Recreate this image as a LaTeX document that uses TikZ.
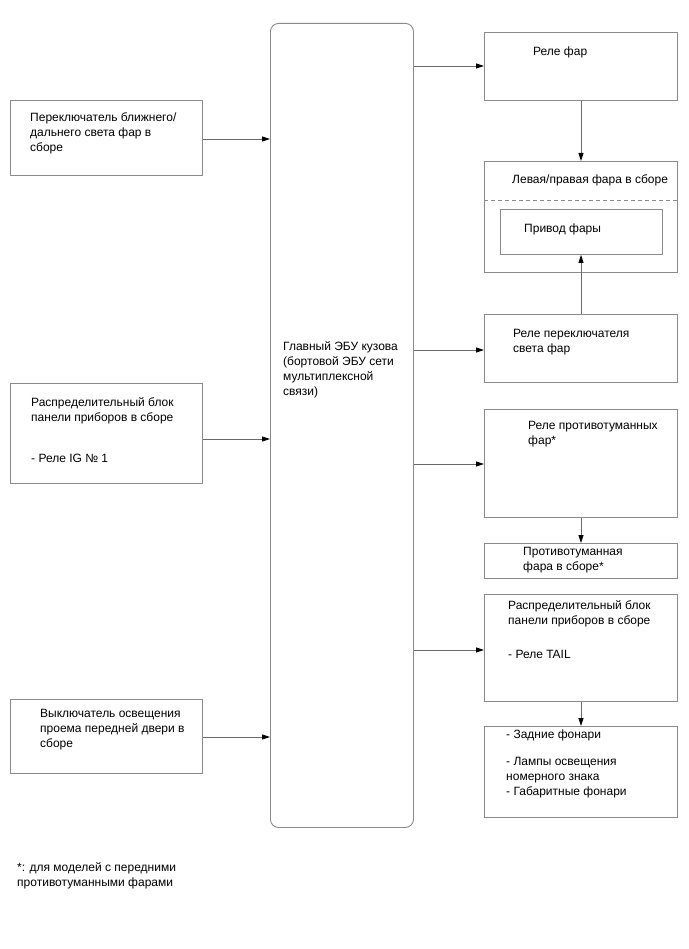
\documentclass[tikz,border=0pt]{standalone}
\usepackage{fontspec}
\setmainfont{Liberation Sans}
\usetikzlibrary{arrows.meta}
\definecolor{bordergray}{HTML}{8A8A8A}
\definecolor{linegray}{HTML}{6A6A6A}
\tikzset{
  box/.style={draw=bordergray, line width=0.9pt, rectangle, inner sep=0pt, anchor=north west},
  txt/.style={anchor=north west, inner sep=0pt, align=left, font=\fontsize{12}{15}\selectfont, text=black},
  arr/.style={draw=linegray, line width=0.8pt, -{Triangle[length=8pt,width=5pt,color=black]}},
}
\begin{document}
\begin{tikzpicture}[x=1pt,y=-1pt]
\useasboundingbox[fill=white] (0,0) rectangle (688,949);

% central ECU
\node[box, rounded corners=8pt, minimum width=143pt, minimum height=804pt] (c) at (270,23) {};
\node[txt] (ct) at (283,341) {Главный ЭБУ кузова\\(бортовой ЭБУ сети\\мультиплексной\\связи)};

% left boxes
\node[box, minimum width=192pt, minimum height=75pt] (l1) at (10,100) {};
\node[txt] (l1t) at (30,113) {Переключатель ближнего/\\дальнего света фар в\\сборе};

\node[box, minimum width=192pt, minimum height=100pt] (l2) at (10,383) {};
\node[txt] (l2t) at (31,397) {Распределительный блок\\панели приборов в сборе\\[26pt]- Реле IG № 1};

\node[box, minimum width=192pt, minimum height=74pt] (l3) at (10,699) {};
\node[txt] (l3t) at (40,709) {Выключатель освещения\\проема передней двери в\\сборе};

% footnote
\node[txt] (fn) at (17,862) {*: для моделей с передними\\противотуманными фарами};

% right boxes
\node[box, minimum width=193pt, minimum height=68pt] (r1) at (484,32) {};
\node[txt] (r1t) at (533,47) {Реле фар};

\node[box, minimum width=193pt, minimum height=111pt] (r2) at (484,161) {};
\node[txt] (r2t) at (512,175) {Левая/правая фара в сборе};
\draw[draw=bordergray, line width=0.9pt, dash pattern=on 4pt off 3pt] (r2.west |- 0,200) -- (r2.east |- 0,200);
\node[box, minimum width=162pt, minimum height=45pt] (r2i) at (500,209) {};
\node[txt] (r2it) at (524,224) {Привод фары};

\node[box, minimum width=193pt, minimum height=68pt] (r3) at (484,314) {};
\node[txt] (r3t) at (513,329) {Реле переключателя\\света фар};

\node[box, minimum width=193pt, minimum height=108pt] (r4) at (484,409) {};
\node[txt] (r4t) at (528,421) {Реле противотуманных\\фар*};

\node[box, minimum width=193pt, minimum height=35pt] (r5) at (484,543) {};
\node[txt] (r5t) at (523,547) {Противотуманная\\фара в сборе*};

\node[box, minimum width=193pt, minimum height=107pt] (r6) at (484,594) {};
\node[txt] (r6t) at (508,600) {Распределительный блок\\панели приборов в сборе\\[19pt]- Реле TAIL};

\node[box, minimum width=193pt, minimum height=91pt] (r7) at (484,726) {};
\node[txt] (r7t) at (506,730) {- Задние фонари\\[12pt]- Лампы освещения\\номерного знака\\- Габаритные фонари};

% connectors into central
\draw[arr] (l1.east |- 0,139) -- (c.west |- 0,139);
\draw[arr] (l2.east |- 0,439) -- (c.west |- 0,439);
\draw[arr] (l3.east |- 0,737) -- (c.west |- 0,737);

% connectors out of central
\draw[arr] (c.east |- 0,66) -- (r1.west |- 0,66);
\draw[arr] (c.east |- 0,350) -- (r3.west |- 0,350);
\draw[arr] (c.east |- 0,464) -- (r4.west |- 0,464);
\draw[arr] (c.east |- 0,650) -- (r6.west |- 0,650);

% vertical connectors
\draw[arr] (r1.south -| 581,0) -- (r2.north -| 581,0);
\draw[arr] (r3.north -| 581,0) -- (r2i.south -| 581,0);
\draw[arr] (r4.south -| 581,0) -- (r5.north -| 581,0);
\draw[arr] (r6.south -| 581,0) -- (r7.north -| 581,0);
\end{tikzpicture}
\end{document}
